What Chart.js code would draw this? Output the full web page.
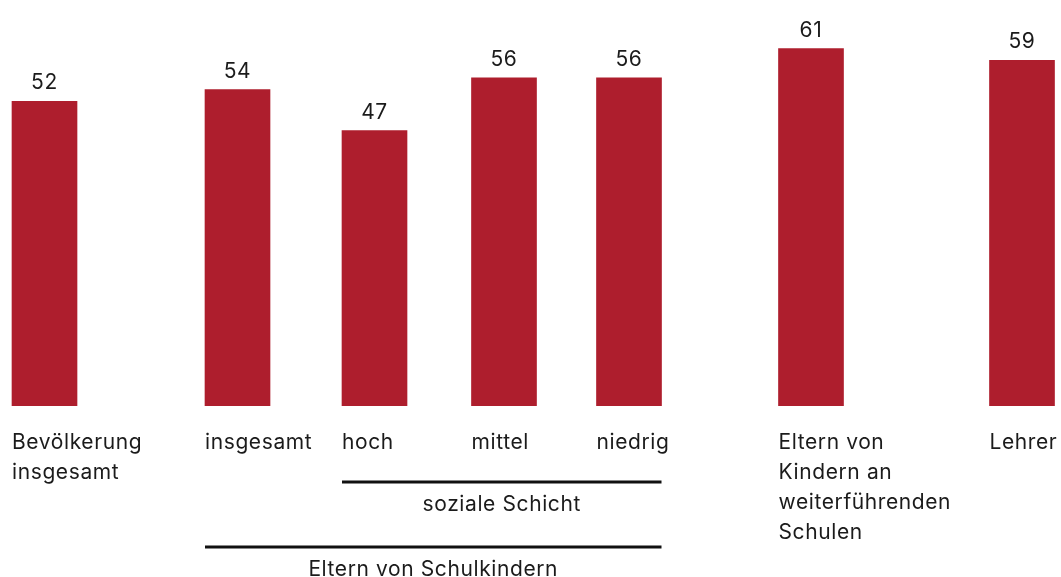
<!DOCTYPE html>
<html>
<head>
<meta charset="utf-8">
<script src="https://cdn.jsdelivr.net/npm/chart.js@4"></script>
<style>
  html, body { margin: 0; padding: 0; background: #fff; }
  #wrap { width: 1061px; height: 577px; }
</style>
</head>
<body>
<div id="wrap"><canvas id="chart" width="1061" height="577"></canvas></div>
<script>
// ---- data ----
const categories = [
  ["Bevölkerung", "insgesamt"],
  ["insgesamt"],
  ["hoch"],
  ["mittel"],
  ["niedrig"],
  ["Eltern von", "Kindern an", "weiterführenden", "Schulen"],
  ["Lehrer"]
];
const values = [52, 54, 47, 56, 56, 61, 59];
const groups = [
  { label: "soziale Schicht", from: 2, to: 4, level: 0 },
  { label: "Eltern von Schulkindern", from: 1, to: 4, level: 1 }
];

// ---- layout (bar centres along the x scale, not data) ----
const slotX = [44.5, 237.5, 374.5, 504, 629, 811, 1022];
const BAR_W = 65;
const RED = "#ae1e2d";
const FONT = "Inter, 'Noto Sans', sans-serif";
const FS = 21;

const labelsPlugin = {
  id: "labels",
  afterDatasetsDraw(chart) {
    const ctx = chart.ctx;
    const meta = chart.getDatasetMeta(0);
    const base = chart.scales.y.getPixelForValue(0);
    ctx.save();
    ctx.fillStyle = "#1b1b1b";
    ctx.font = FS + "px " + FONT;
    ctx.letterSpacing = "0.6px";
    meta.data.forEach((bar, i) => {
      // value above bar
      ctx.textAlign = "center";
      ctx.textBaseline = "alphabetic";
      ctx.fillText(String(values[i]), bar.x, bar.y - 12);
      // category below
      ctx.textAlign = "left";
      ctx.textBaseline = "middle";
      categories[i].forEach((line, k) => {
        ctx.fillText(line, bar.x - BAR_W / 2, base + 37 + k * 30);
      });
    });
    groups.forEach(g => {
      const x0 = meta.data[g.from].x - BAR_W / 2;
      const x1 = meta.data[g.to].x + BAR_W / 2;
      const ly = base + 76 + g.level * 65;
      ctx.strokeStyle = "#111";
      ctx.lineWidth = 3;
      ctx.beginPath();
      ctx.moveTo(x0, ly);
      ctx.lineTo(x1, ly);
      ctx.stroke();
      ctx.textAlign = "center";
      ctx.textBaseline = "middle";
      ctx.fillText(g.label, (x0 + x1) / 2, ly + 23);
    });
    ctx.restore();
  }
};

new Chart(document.getElementById("chart"), {
  type: "bar",
  data: {
    datasets: [{
      data: values.map((v, i) => ({ x: slotX[i], y: v })),
      backgroundColor: RED,
      barThickness: BAR_W,
      borderWidth: 0
    }]
  },
  options: {
    responsive: false,
    animation: false,
    layout: { padding: { left: 0, right: 0, top: 0, bottom: 171 } },
    plugins: { legend: { display: false }, tooltip: { enabled: false } },
    scales: {
      x: { type: "linear", min: 0, max: 1061, offset: false, display: false },
      y: { min: 0, max: 69.3, display: false }
    }
  },
  plugins: [labelsPlugin]
});
</script>
</body>
</html>
